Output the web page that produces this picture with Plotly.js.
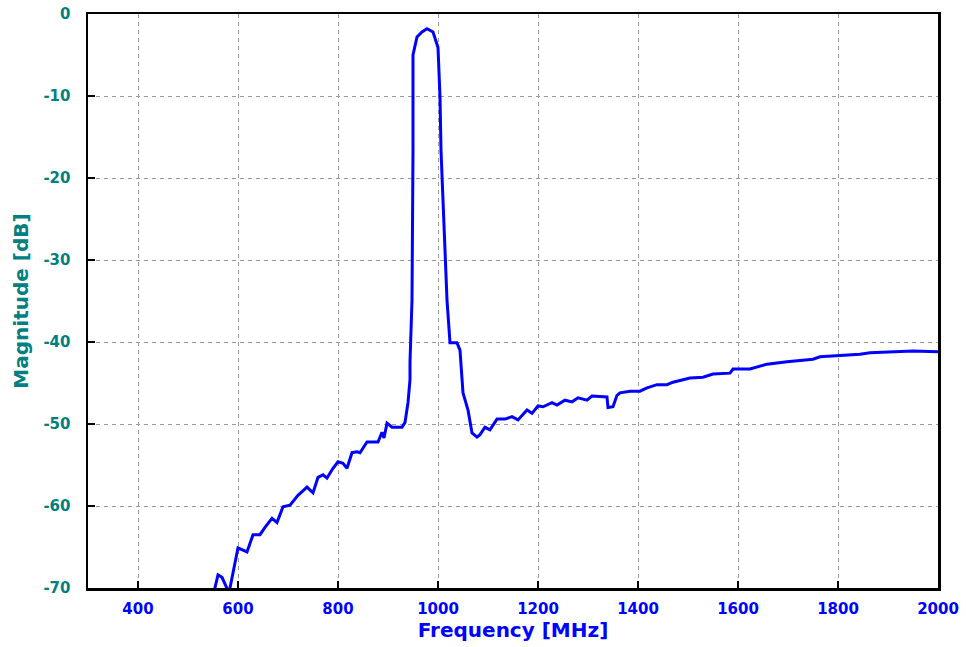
<!DOCTYPE html>
<html>
<head>
<meta charset="utf-8">
<script src="https://cdn.plot.ly/plotly-3.0.1.min.js"></script>
<style>html,body{margin:0;padding:0;background:#fff;}#chart{width:966px;height:647px;}</style>
</head>
<body>
<div id="chart"></div>
<script>
const freqMHz = [550,560,568,578,582,600,618,630,644,654,668,678,690,704,720,738,750,760,770,778,790,800,810,818,828,838,844,858,870,880,888,892,898,908,928,934,940,944,944,948,950,950,958,968,978,990,1000,1004,1006,1014,1018,1024,1038,1044,1050,1060,1068,1078,1084,1094,1104,1118,1134,1148,1160,1178,1188,1200,1210,1228,1238,1254,1268,1280,1298,1308,1338,1340,1350,1358,1364,1384,1404,1418,1438,1458,1470,1490,1504,1530,1550,1584,1590,1624,1658,1698,1718,1750,1764,1810,1844,1864,1898,1950,2000];
const magnitudeDB = [-71,-68.4,-68.7,-70.0,-70.6,-65.1,-65.6,-63.5,-63.5,-62.6,-61.5,-62.0,-60.1,-59.9,-58.7,-57.7,-58.4,-56.5,-56.2,-56.6,-55.4,-54.6,-54.8,-55.4,-53.5,-53.4,-53.5,-52.2,-52.2,-52.2,-51.0,-51.7,-49.9,-50.4,-50.4,-49.8,-47.4,-44.6,-42.4,-34.9,-16.6,-5.0,-2.8,-2.2,-1.8,-2.2,-4.1,-10.1,-16.6,-28.8,-34.9,-40.1,-40.1,-41.0,-46.2,-48.3,-51.1,-51.6,-51.3,-50.4,-50.7,-49.4,-49.4,-49.1,-49.5,-48.3,-48.7,-47.8,-47.9,-47.4,-47.7,-47.1,-47.3,-46.8,-47.1,-46.6,-46.7,-48.0,-47.9,-46.5,-46.2,-46.0,-46.0,-45.6,-45.2,-45.2,-44.9,-44.6,-44.4,-44.3,-43.9,-43.8,-43.3,-43.3,-42.7,-42.4,-42.3,-42.1,-41.8,-41.6,-41.5,-41.3,-41.2,-41.1,-41.2];
const xTickVals = [400,600,800,1000,1200,1400,1600,1800,2000];
const xTickText = ['400','600','800','1000','1200','1400','1600','1800','2000'];
const yTickVals = [0,-10,-20,-30,-40,-50,-60,-70];
const yTickText = ['0','-10','-20','-30','-40','-50','-60','-70'];

const trace = {
  x: freqMHz, y: magnitudeDB, type: 'scatter', mode: 'lines',
  line: {color: '#0000ff', width: 3}, hoverinfo: 'skip'
};
const fontFam = '"DejaVu Sans", Verdana, sans-serif';
const layout = {
  width: 966, height: 647,
  margin: {l: 88, r: 28, t: 14, b: 59},
  paper_bgcolor: '#ffffff', plot_bgcolor: '#ffffff',
  showlegend: false,
  xaxis: {
    range: [300, 2000], tickvals: xTickVals, ticktext: xTickText,
    showline: true, linecolor: '#000', linewidth: 2.5, mirror: true,
    ticks: 'inside', ticklen: 7, tickwidth: 2.5, tickcolor: '#000',
    showgrid: true, gridcolor: '#999999', griddash: '4px,4px', gridwidth: 1,
    zeroline: false,
    tickfont: {family: fontFam, size: 15, color: '#0000ff', weight: 'bold'},
    ticklabelstandoff: 5,
    title: {text: 'Frequency [MHz]', standoff: 6, font: {family: fontFam, size: 20, color: '#0000ff', weight: 'bold'}}
  },
  yaxis: {
    range: [-70, 0], tickvals: yTickVals, ticktext: yTickText,
    showline: true, linecolor: '#000', linewidth: 2.5, mirror: true,
    ticks: 'inside', ticklen: 7, tickwidth: 2.5, tickcolor: '#000',
    showgrid: true, gridcolor: '#999999', griddash: '4px,4px', gridwidth: 1,
    zeroline: false,
    tickfont: {family: fontFam, size: 15, color: '#008080', weight: 'bold'},
    ticklabelstandoff: 12,
    title: {text: 'Magnitude [dB]', standoff: 10, font: {family: fontFam, size: 20, color: '#008080', weight: 'bold'}}
  }
};
Plotly.newPlot('chart', [trace], layout, {staticPlot: true, displayModeBar: false});
</script>
</body>
</html>
